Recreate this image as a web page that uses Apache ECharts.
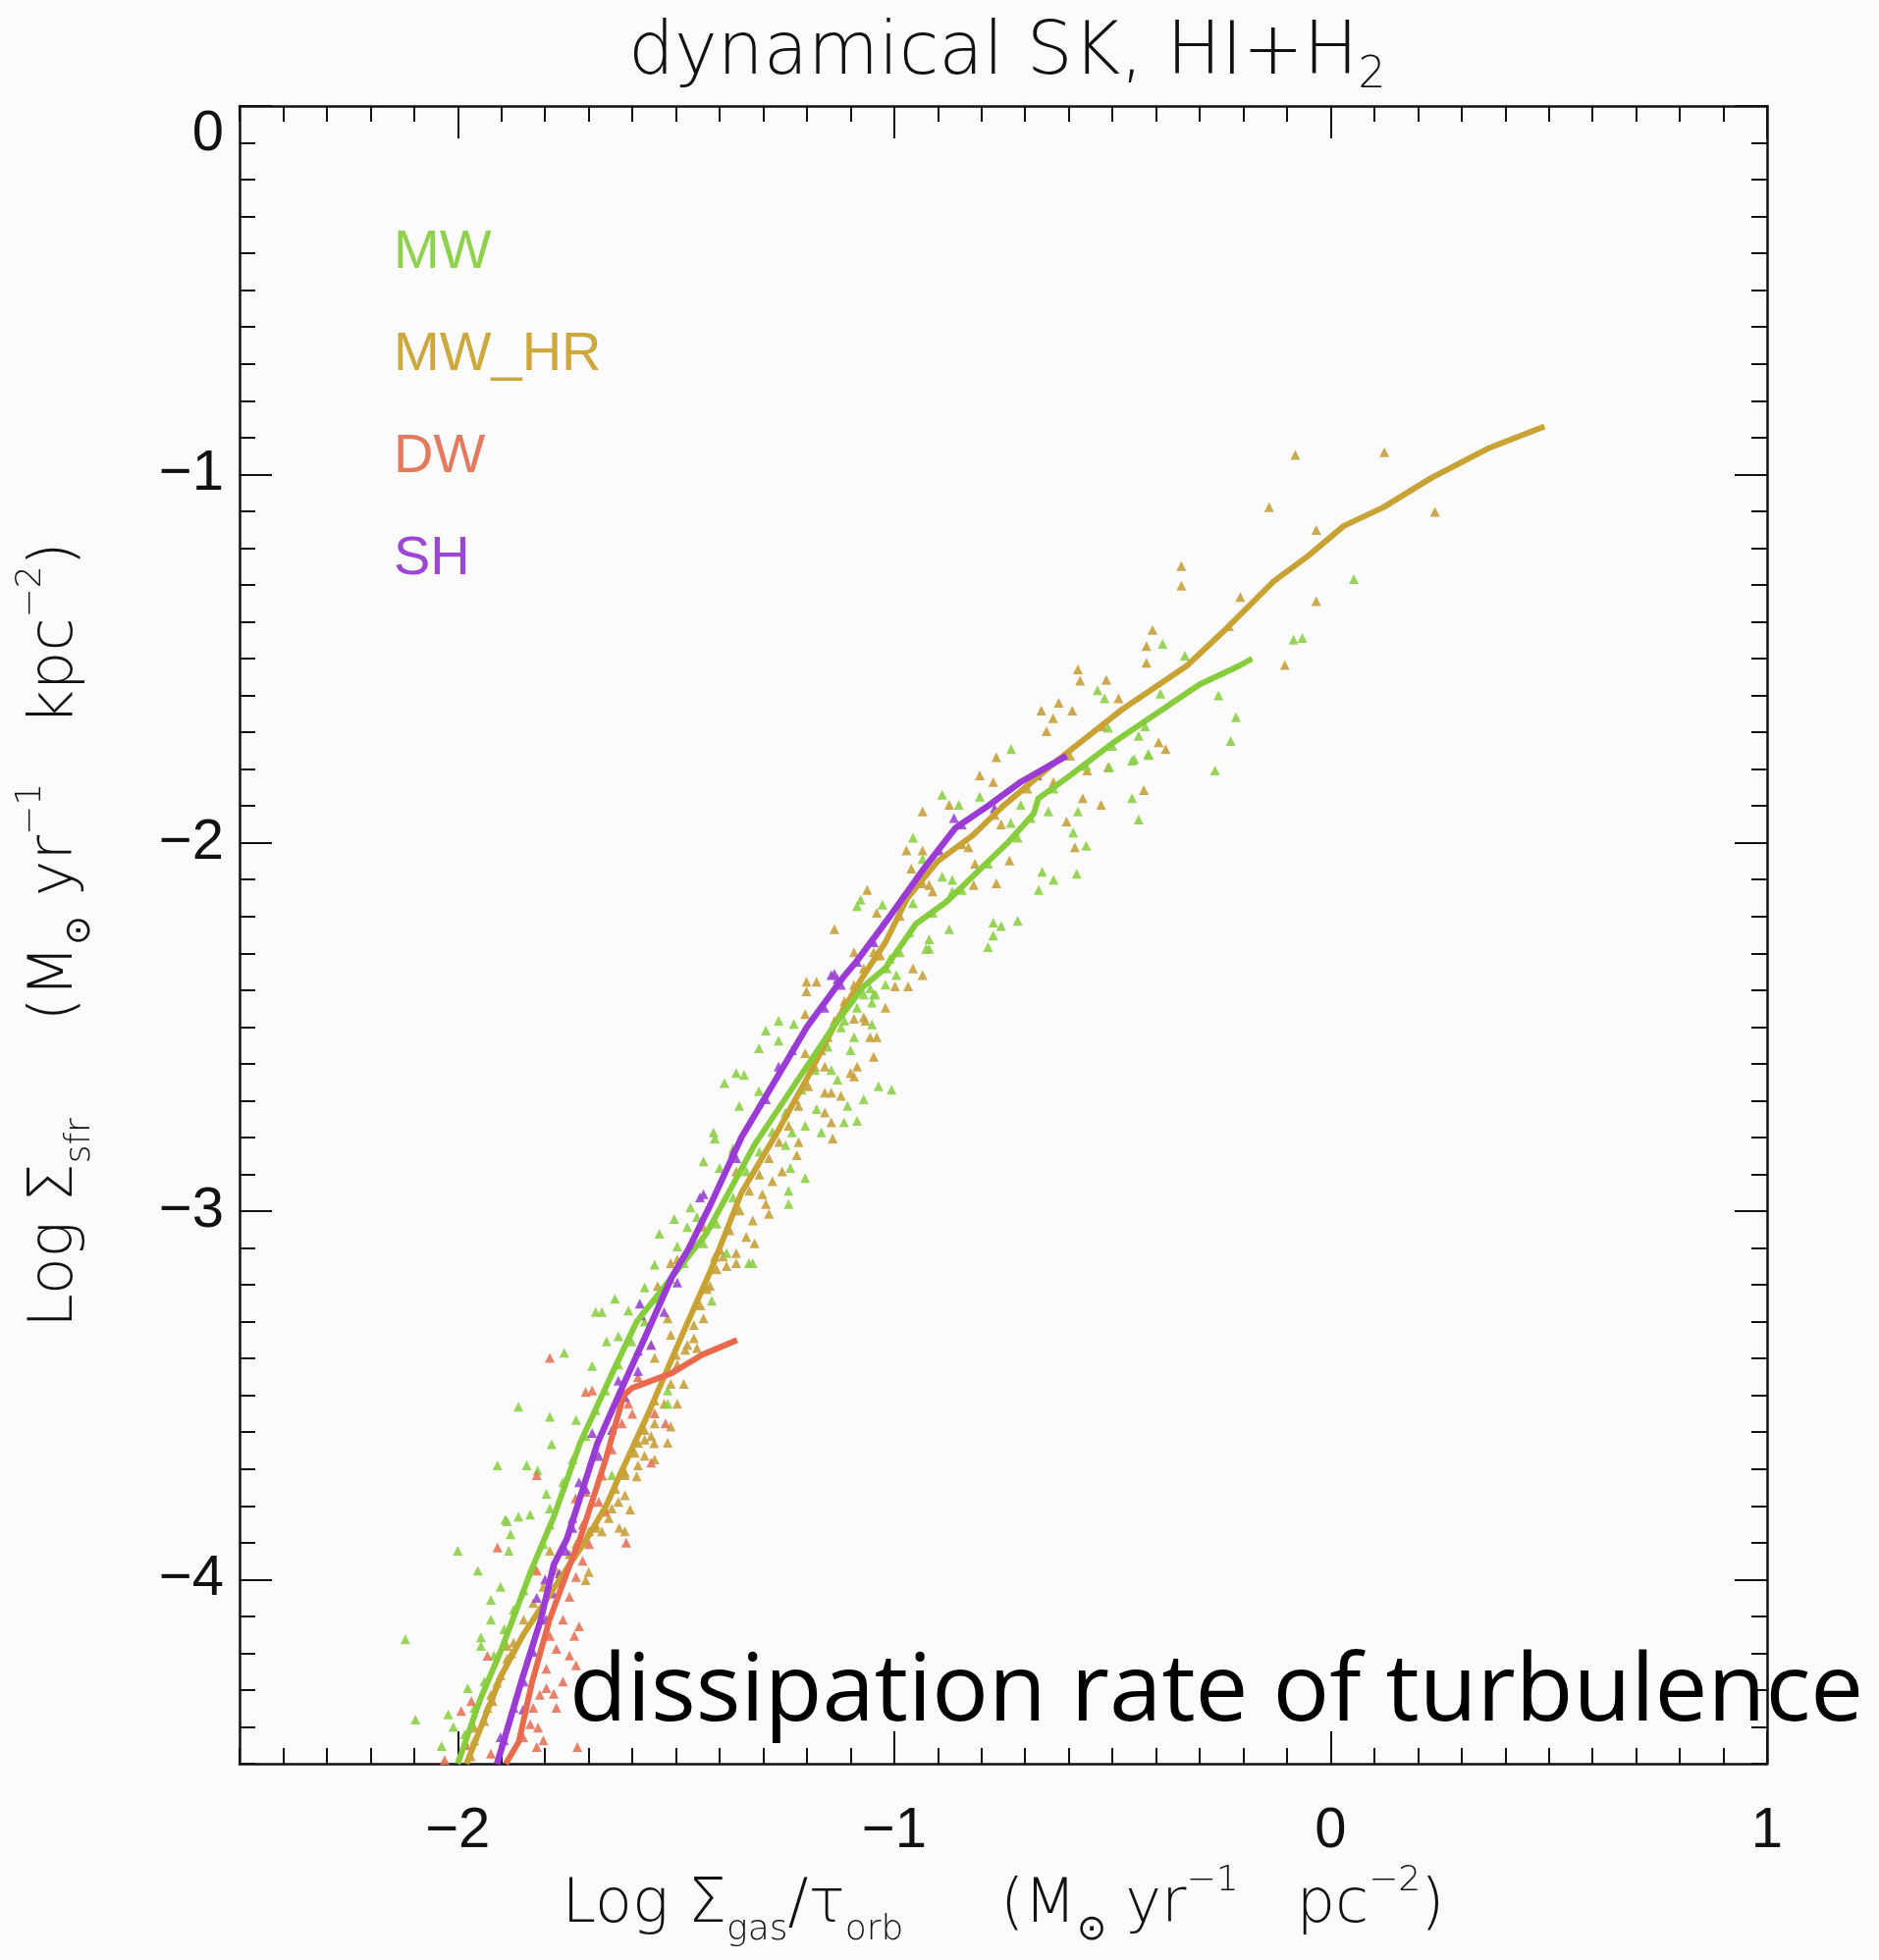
<!DOCTYPE html>
<html><head><meta charset="utf-8">
<script src="https://cdn.jsdelivr.net/npm/echarts@6/dist/echarts.min.js"></script>
<style>html,body{margin:0;padding:0;background:#fbfbfb}#c{width:1914px;height:1997px}</style>
</head><body><div id="c"></div>
<script>
// ---------- data ----------
const seriesNames = ['MW', 'MW_HR', 'DW', 'SH'];
const xMajorTicks = [-2, -1, 0, 1];
const yMajorTicks = [-4, -3, -2, -1, 0];

const mwLine = [[-2.00,-4.50],[-1.95,-4.33],[-1.90,-4.19],[-1.83,-3.97],[-1.78,-3.83],[-1.72,-3.63],[-1.65,-3.45],[-1.59,-3.30],[-1.51,-3.18],[-1.43,-3.06],[-1.32,-2.82],[-1.23,-2.66],[-1.14,-2.50],[-1.07,-2.39],[-1.02,-2.34],[-0.95,-2.22],[-0.88,-2.16],[-0.81,-2.08],[-0.74,-2.00],[-0.68,-1.92],[-0.67,-1.88],[-0.60,-1.82],[-0.50,-1.73],[-0.40,-1.65],[-0.30,-1.57],[-0.21,-1.52],[-0.18,-1.50]];
const mwhrLine = [[-1.98,-4.50],[-1.94,-4.38],[-1.90,-4.26],[-1.85,-4.15],[-1.80,-4.06],[-1.75,-3.97],[-1.71,-3.90],[-1.66,-3.80],[-1.63,-3.72],[-1.56,-3.54],[-1.48,-3.32],[-1.42,-3.16],[-1.35,-2.95],[-1.27,-2.79],[-1.20,-2.64],[-1.13,-2.48],[-1.07,-2.36],[-1.02,-2.27],[-0.97,-2.15],[-0.90,-2.05],[-0.82,-1.98],[-0.75,-1.90],[-0.63,-1.78],[-0.48,-1.64],[-0.33,-1.52],[-0.24,-1.42],[-0.13,-1.29],[-0.05,-1.22],[0.03,-1.14],[0.12,-1.09],[0.23,-1.01],[0.36,-0.93],[0.49,-0.87]];
const dwLine = [[-1.89,-4.50],[-1.86,-4.44],[-1.83,-4.28],[-1.79,-4.11],[-1.74,-3.95],[-1.72,-3.89],[-1.66,-3.67],[-1.62,-3.50],[-1.60,-3.48],[-1.51,-3.44],[-1.44,-3.39],[-1.36,-3.35]];
const shLine = [[-1.91,-4.50],[-1.88,-4.38],[-1.85,-4.26],[-1.81,-4.11],[-1.78,-3.96],[-1.75,-3.89],[-1.68,-3.63],[-1.62,-3.47],[-1.57,-3.34],[-1.51,-3.18],[-1.47,-3.10],[-1.42,-2.98],[-1.35,-2.80],[-1.27,-2.64],[-1.20,-2.50],[-1.12,-2.37],[-1.085,-2.32],[-1.01,-2.20],[-0.935,-2.075],[-0.86,-1.96],[-0.785,-1.90],[-0.71,-1.835],[-0.605,-1.764]];

const mwPoints = [[0.053,-1.284],[-0.085,-1.449],[-0.065,-1.444],[-0.385,-1.46],[-0.334,-1.492],[-0.534,-1.586],[-0.518,-1.608],[-0.39,-1.595],[-0.257,-1.60],[-0.217,-1.659],[-0.229,-1.724],[-0.265,-1.804],[-0.51,-1.688],[-0.418,-1.759],[-0.45,-1.773],
[-0.44,-1.71],[-0.732,-1.746],[-0.455,-1.777],[-0.507,-1.795],[-0.417,-1.762],[-0.455,-1.879],[-0.44,-1.937],[-0.579,-1.915],[-0.59,-1.972],[-0.56,-2.008],[-0.582,-2.084],[-0.661,-2.079],[-0.635,-2.101],[-0.669,-2.128],[-0.773,-2.217],[-0.755,-2.226],[-0.717,-2.212],[-0.773,-2.252],[-0.785,-2.283],[-0.647,-1.915],[-0.71,-1.897],[-0.733,-1.946],[-0.89,-1.87],[-0.852,-1.897],[-0.804,-1.875],[-0.957,-1.986],[-0.935,-2.044],[-0.89,-2.092],[-0.867,-2.101],[-0.867,-2.132],[-1.077,-2.155],[-1.027,-2.168],[-0.957,-2.164],[-0.874,-2.235],[-0.92,-2.262],[-0.92,-2.288],[-1.02,-2.385],[-1.047,-2.412],[-1.051,-2.493],[-1.085,-2.172],
[-0.995,-2.359],[-0.927,-2.288],[-1.043,-2.412],[-1.051,-2.434],[-1.265,-2.483],[-1.23,-2.492],[-1.092,-2.528],[-1.294,-2.51],[-1.265,-2.537],[-1.31,-2.558],[-1.144,-2.617],[-1.1,-2.563],[-1.13,-2.643],[-1.036,-2.661],[-1.006,-2.67],[-1.07,-2.696],[-1.362,-2.625],[-1.344,-2.63],[-1.389,-2.652],[-1.31,-2.674],[-1.355,-2.714],[-1.178,-2.723],[-1.107,-2.714],[-1.115,-2.759],[-1.085,-2.755],[-1.204,-2.768],[-1.167,-2.786],[-1.234,-2.786],[-1.249,-2.821],[-1.238,-2.883],[-1.204,-2.91],[-1.242,-2.945],[-1.242,-2.981],[-1.324,-3.141],[-1.384,-3.114],[-1.414,-2.786],[-1.411,-2.803],[-1.437,-2.865],[-1.4,-2.883],[-1.369,-2.83],[-1.467,-2.99],[-1.452,-3.016],[-1.474,-3.043],[-1.504,-3.021],[-1.538,-3.061],[-1.497,-3.096],[-1.549,-3.145],
[-1.333,-3.141],[-1.418,-3.243],[-1.572,-3.207],[-1.64,-3.238],[-1.684,-3.274],[-1.67,-3.274],[-1.609,-3.27],[-1.659,-3.354],[-1.632,-3.34],[-1.756,-3.384],[-1.692,-3.42],[-1.861,-3.531],[-1.789,-3.558],[-1.729,-3.567],[-1.785,-3.633],[-1.909,-3.69],[-1.842,-3.69],[-1.817,-3.704],[-1.797,-3.767],[-1.887,-3.842],[-1.861,-3.829],[-1.834,-3.824],[-1.879,-3.877],[-1.519,-3.487],[-1.519,-3.523],[-1.647,-3.717],
[-2.0,-3.922],[-1.891,-3.837],[-1.954,-3.976],[-1.883,-3.922],[-1.902,-4.02],[-1.924,-4.055],[-1.924,-4.109],[-1.947,-4.157],[-1.947,-4.18],[-2.12,-4.162],[-2.097,-4.38],[-1.977,-4.295],[-2.022,-4.366],[-2.01,-4.40],[-2.037,-4.452],
[-1.984,-4.42],[-1.962,-4.348],[-1.939,-4.277],[-1.917,-4.206],[-1.894,-4.135],[-1.872,-4.082],[-1.849,-4.029],[-1.827,-3.967],[-1.804,-3.904],[-1.789,-3.851],
[-1.789,-3.807],[-1.759,-3.736],[-1.737,-3.674],[-1.707,-3.611],[-1.684,-3.54],[-1.662,-3.487],[-1.632,-3.416],[-1.602,-3.354],[-1.572,-3.30],[-1.542,-3.238],[-1.512,-3.185],[-1.482,-3.141],
[-1.437,-3.087],[-1.407,-3.034],[-1.369,-2.963],[-1.339,-2.892],[-1.309,-2.839],[-1.279,-2.785],[-1.249,-2.732],[-1.212,-2.67],[-1.182,-2.617],[-1.152,-2.554],[-1.122,-2.501],[-1.085,-2.448],[-1.055,-2.395],[-1.017,-2.341],[-0.987,-2.297],
[-1.114,-2.483],[-1.07,-2.412],[-1.01,-2.315],[-0.965,-2.243],[-0.912,-2.19],[-0.845,-2.128],[-0.785,-2.057],[-0.717,-1.986],[-0.687,-1.933],[-0.635,-1.853],[-0.56,-1.791],[-0.50,-1.737],[-0.425,-1.684]];

const mwhrPoints = [[-0.081,-0.947],[0.123,-0.94],[-0.141,-1.089],[0.239,-1.102],[-0.033,-1.151],[-0.342,-1.249],[-0.342,-1.302],[-0.207,-1.333],[-0.033,-1.344],[-0.233,-1.412],[-0.408,-1.422],[-0.422,-1.466],[-0.422,-1.511],[-0.105,-1.517],[-0.579,-1.529],[-0.574,-1.56],[-0.514,-1.558],[-0.486,-1.608],[-0.623,-1.62],[-0.663,-1.641],[-0.592,-1.641],[-0.636,-1.662],[-0.651,-1.697],[-0.394,-1.727],[-0.378,-1.746],[-0.51,-1.795],[-0.558,-1.804],
[-0.766,-1.768],[-0.804,-1.817],[-0.773,-1.835],[-0.635,-1.835],[-0.428,-1.857],[-0.526,-1.897],[-0.568,-1.879],[-0.605,-1.942],[-0.586,-2.012],[-0.736,-2.048],[-0.766,-2.11],[-0.755,-1.95],[-0.935,-1.915],[-0.874,-1.897],[-0.972,-2.021],[-0.935,-2.021],[-0.961,-2.07],[-0.83,-2.012],[-0.815,-2.057],[-0.818,-2.115],[-0.92,-2.115],[-0.912,-2.132],[-1.062,-2.128],[-1.04,-2.19],[-1.137,-2.235],[-0.957,-2.341],[-0.935,-2.359],[-0.998,-2.39],[-0.968,-2.39],[-1.02,-2.448],[-1.092,-2.297],[-1.092,-2.478],[-1.066,-2.483],
[-1.201,-2.377],[-1.178,-2.377],[-1.201,-2.403],[-1.032,-2.305],[-1.204,-2.465],[-1.07,-2.474],[-1.055,-2.528],[-1.04,-2.528],[-1.204,-2.571],[-1.19,-2.59],[-1.159,-2.608],[-1.047,-2.581],[-1.085,-2.608],[-1.1,-2.625],[-1.092,-2.634],[-1.159,-2.678],[-1.144,-2.678],[-1.122,-2.687],[-1.227,-2.696],[-1.159,-2.732],[-1.144,-2.759],[-1.141,-2.803],[-1.219,-2.813],[-1.223,-2.848],[-1.257,-2.892],[-1.279,-2.919],[-1.302,-2.954],[-1.294,-2.981],[-1.287,-3.007],[-1.324,-3.025],[-1.339,-3.07],[-1.32,-3.087],[-1.362,-3.141],[-1.362,-2.892],[-1.437,-3.043],[-1.512,-3.141],[-1.411,-3.123],
[-1.497,-3.131],[-1.362,-3.114],[-1.384,-3.149],[-1.422,-3.203],[-1.437,-3.291],[-1.459,-3.345],[-1.452,-3.372],[-1.479,-3.376],[-1.512,-3.336],[-1.519,-3.291],[-1.542,-3.203],[-1.557,-3.363],[-1.549,-3.398],[-1.50,-3.39],[-1.482,-3.469],[-1.549,-3.514],[-1.572,-3.594],[-1.557,-3.611],[-1.587,-3.629],[-1.55,-3.63],[-1.572,-3.664],[-1.587,-3.69],[-1.617,-3.717],[-1.59,-3.72],[-1.617,-3.771],[-1.632,-3.789],[-1.647,-3.807],[-1.605,-3.81],[-1.617,-3.869],[-1.63,-3.86],
[-1.887,-4.18],[-1.877,-4.2],[-1.707,-4.002],[-1.70,-3.98],[-1.67,-3.869],[-1.962,-4.402],[-1.932,-4.348],[-1.92,-4.33],[-1.91,-4.28],[-1.97,-4.48],
[-1.962,-4.437],[-1.939,-4.384],[-1.924,-4.313],[-1.902,-4.26],[-1.887,-4.215],[-1.872,-4.171],[-1.849,-4.109],[-1.827,-4.064],[-1.804,-4.02],[-1.774,-3.976],[-1.744,-3.931],[-1.714,-3.896],[-1.684,-3.851],[-1.654,-3.833],[-1.699,-3.869],[-1.729,-3.904],[-1.789,-3.922],
[-1.684,-3.86],[-1.662,-3.807],[-1.639,-3.754],[-1.617,-3.709],[-1.594,-3.656],[-1.572,-3.62],[-1.549,-3.576],[-1.527,-3.523],[-1.512,-3.469],[-1.497,-3.416],[-1.474,-3.363],[-1.459,-3.309],[-1.444,-3.256],[-1.429,-3.212],[-1.407,-3.158],[-1.392,-3.123],[-1.549,-3.674],[-1.519,-3.629],[-1.512,-3.585],[-1.497,-3.523],
[-1.399,-3.105],[-1.377,-3.052],[-1.354,-2.998],[-1.332,-2.945],[-1.309,-2.901],[-1.287,-2.856],[-1.264,-2.812],[-1.242,-2.768],[-1.219,-2.714],[-1.197,-2.661],[-1.182,-2.608],[-1.167,-2.563],[-1.152,-2.528],[-1.137,-2.483],[-1.114,-2.439],[-1.092,-2.386],[-1.07,-2.341],[-1.047,-2.297],
[-1.114,-2.43],[-1.04,-2.306],[-0.987,-2.199],[-0.935,-2.11],[-0.845,-2.004],[-0.77,-1.924],[-0.695,-1.853],[-0.597,-1.764],[-0.522,-1.684]];

const dwPoints = [[-1.789,-3.398],[-1.707,-3.491],[-1.692,-3.487],[-1.587,-3.451],[-1.549,-3.549],[-1.524,-3.576],[-1.557,-3.683],[-1.662,-3.816],[-1.677,-3.789],[-1.707,-3.762],[-1.73,-3.78],[-1.819,-3.717],[-1.909,-3.913],[-1.932,-4.207],[-1.969,-4.33],[-1.992,-4.357],[-1.98,-4.45],[-2.03,-4.49],[-1.819,-4.455],[-1.726,-4.455],[-1.816,-4.402],[-1.797,-4.295],[-1.78,-4.31],[-1.729,-4.233],[-1.733,-4.153],[-1.722,-4.127],[-1.614,-3.9],[-1.819,-3.976],[-1.85,-4.428],[-1.924,-4.473],[-1.60,-3.55],
[-1.827,-4.348],[-1.797,-4.242],[-1.774,-4.188],[-1.759,-4.109],[-1.744,-4.047],[-1.729,-3.993],[-1.714,-3.949],[-1.699,-3.904],[-1.789,-4.153],[-1.812,-4.313],[-1.834,-4.393],[-1.759,-4.277],[-1.744,-4.206],[-1.774,-4.348],[-1.804,-4.437],
[-1.714,-3.851],[-1.692,-3.789],[-1.669,-3.718],[-1.647,-3.647],[-1.624,-3.576],[-1.609,-3.523]];

const shPoints = [[-1.137,-2.355],[-1.13,-2.37],[-1.144,-2.359],[-0.863,-1.933],[-1.445,-2.963],[-1.362,-2.856],[-1.265,-2.608],[-1.583,-3.251],[-1.58,-3.283],[-1.692,-3.602],[-1.632,-3.46],[-1.587,-3.379],[-1.722,-3.736],[-1.85,-4.353],[-1.902,-4.428],[-1.819,-4.05],[-1.80,-4.0],
[-1.894,-4.437],[-1.872,-4.348],[-1.849,-4.277],[-1.827,-4.197],[-1.797,-4.109],[-1.782,-4.038],[-1.767,-3.984],[-1.752,-3.922],[-1.737,-3.86],
[-1.737,-3.833],[-1.707,-3.754],[-1.677,-3.665],[-1.647,-3.594],[-1.617,-3.505],[-1.587,-3.434],[-1.557,-3.363],[-1.527,-3.274],[-1.497,-3.194],
[-1.437,-2.954],[-1.369,-2.839],[-1.294,-2.696],[-1.234,-2.563],[-1.16,-2.448],[-1.085,-2.323],
[-1.122,-2.386],[-1.047,-2.27],[-0.972,-2.137],[-0.897,-2.021],[-0.845,-1.95],[-0.77,-1.906],[-0.672,-1.817]];

// ---------- style ----------
const lineColors = {MW:'#86cc3c', MW_HR:'#c9a234', DW:'#e8694c', SH:'#9b3bd6'};
const dotColors = {MW:'#8ccf48', MW_HR:'#c6a03c', DW:'#e4735a', SH:'#9a45d0'};
const legendColors = ['#8fd14f', '#cda83f', '#e27a5f', '#9c47d4'];
const INK = '#111';
const NAMEFONT = "'DejaVu Sans', sans-serif";
const TICKFONT = "'Liberation Sans', 'DejaVu Sans', sans-serif";

function fmt(v) { return (v < 0 ? '\u2212' : '') + Math.abs(v); }
const rich = {
  n: {fontFamily: NAMEFONT, fontSize: 62, fontWeight: 200, lineHeight: 86, color: INK},
  s: {fontFamily: NAMEFONT, fontSize: 36, fontWeight: 200, lineHeight: 36, verticalAlign: 'bottom', color: INK},
  p: {fontFamily: NAMEFONT, fontSize: 36, fontWeight: 200, lineHeight: 36, verticalAlign: 'top', color: INK}
};

function majorAxis(dim, pos, showLabel, extra) {
  const isX = dim === 'x';
  const ticks = isX ? xMajorTicks : yMajorTicks;
  return Object.assign({
    type: 'value', position: pos,
    min: isX ? -2.5 : -4.5, max: isX ? 1 : 0,
    axisLine: {show: true, onZero: false, lineStyle: {color: INK, width: 2.5}},
    axisTick: {show: true, inside: true, length: 33, customValues: ticks, lineStyle: {color: INK, width: 2}},
    axisLabel: {show: showLabel, customValues: ticks, formatter: fmt, fontFamily: TICKFONT, fontSize: 58, color: INK,
                margin: isX ? 40 : 16, verticalAlignMaxLabel: isX ? null : 'top'},
    splitLine: {show: false}
  }, extra || {});
}
function minorAxis(dim, pos) {
  const isX = dim === 'x';
  return {
    type: 'value', position: pos,
    min: isX ? -2.5 : -4.5, max: isX ? 1 : 0, interval: 0.1,
    axisLine: {show: false, onZero: false},
    axisTick: {show: true, inside: true, length: 16, lineStyle: {color: INK, width: 2}},
    axisLabel: {show: false}, splitLine: {show: false}
  };
}

const chart = echarts.init(document.getElementById('c'), null, {renderer: 'canvas'});
const scatterData = {MW: mwPoints, MW_HR: mwhrPoints, DW: dwPoints, SH: shPoints};
const lineData = {MW: mwLine, MW_HR: mwhrLine, DW: dwLine, SH: shLine};

const series = [];
['MW_HR', 'MW', 'DW', 'SH'].forEach(n => series.push({
  type: 'scatter', name: n, data: scatterData[n], symbol: 'triangle', symbolSize: 10,
  itemStyle: {color: dotColors[n], opacity: 0.9}, z: 2, silent: true
}));
['MW_HR', 'MW', 'DW', 'SH'].forEach(n => series.push({
  type: 'line', name: n, data: lineData[n], showSymbol: false, symbol: 'none', smooth: false,
  lineStyle: {color: lineColors[n], width: n === 'SH' ? 6.5 : 6}, z: 3, silent: true
}));

chart.setOption({
  backgroundColor: '#fbfbfb',
  animation: false,
  title: {
    text: 'dynamical SK, HI+H{s|2}', left: 640, top: 12, padding: 0,
    textStyle: {fontFamily: NAMEFONT, fontSize: 74, fontWeight: 200, color: INK, lineHeight: 88,
      rich: {s: {fontFamily: NAMEFONT, fontSize: 44, fontWeight: 200, lineHeight: 42, verticalAlign: 'bottom', color: INK}}}
  },
  legend: {
    orient: 'vertical', left: 396, top: 230, padding: 0, itemWidth: 0, itemHeight: 0, itemGap: 48,
    selectedMode: false,
    data: seriesNames.map((n, i) => ({name: n, textStyle: {color: legendColors[i]}})),
    textStyle: {fontFamily: "'Liberation Sans', sans-serif", fontSize: 56}
  },
  grid: {left: 244, right: 114, top: 108, bottom: 200, containLabel: false, outerBoundsMode: 'none'},
  xAxis: [
    majorAxis('x', 'bottom', true, {
      name: '{n|Log Σ}{s|gas}{n|/τ}{s|orb}{n|     (M}{s|⊙}{n| yr}{p|−1}{n|   pc}{p|−2}{n|)}',
      nameLocation: 'middle', nameGap: 102, nameMoveOverlap: false,
      nameTextStyle: {rich: rich}
    }),
    minorAxis('x', 'bottom'),
    majorAxis('x', 'top', false),
    minorAxis('x', 'top')
  ],
  yAxis: [
    majorAxis('y', 'left', true, {
      name: '{n|Log Σ}{s|sfr}{n|     (M}{s|⊙}{n| yr}{p|−1}{n|   kpc}{p|−2}{n|)}',
      nameLocation: 'middle', nameGap: 144, nameMoveOverlap: false,
      nameTextStyle: {rich: rich}
    }),
    minorAxis('y', 'left'),
    majorAxis('y', 'right', false),
    minorAxis('y', 'right')
  ],
  graphic: [{
    type: 'text', left: 580, top: 1678, z: 100, silent: true,
    style: {text: 'dissipation rate of turbulence', fill: '#000',
            font: "96px 'Open Sans', 'Noto Sans', sans-serif"}
  }],
  series: series
});
</script>
</body></html>
